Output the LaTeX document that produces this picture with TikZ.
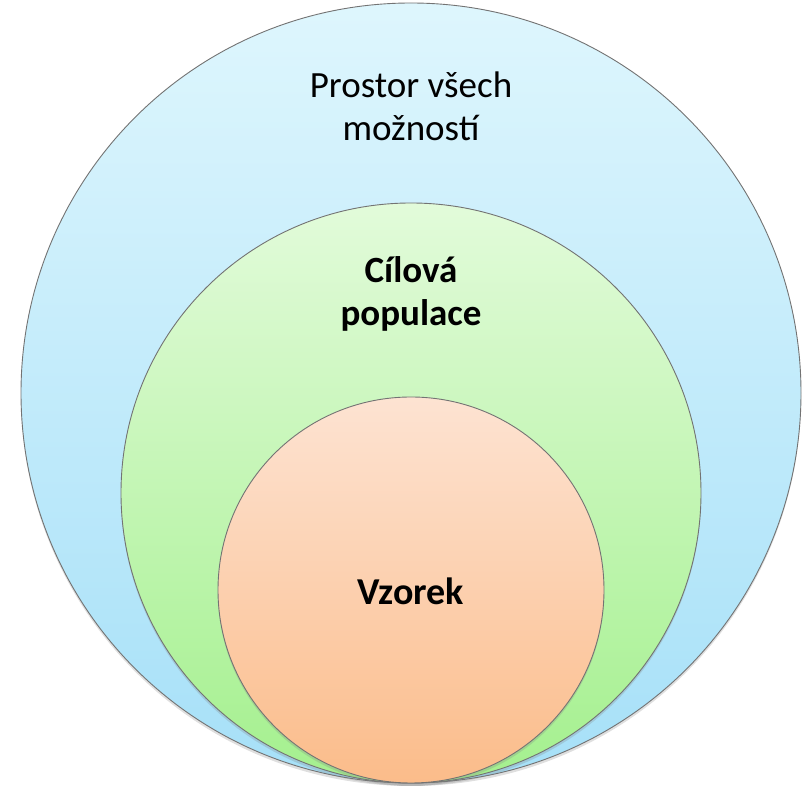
\documentclass[tikz,border=0pt]{standalone}
\usepackage{fontspec}
\setmainfont{Carlito}
\usetikzlibrary{shadows}

\tikzset{
  kruh/.style={circle, draw=black!55, line width=0.9pt, inner sep=0pt,
    drop shadow={shadow xshift=0pt, shadow yshift=-3pt, opacity=0.25}},
  popis/.style={align=center, font=\fontsize{37}{43}\selectfont}
}

\begin{document}
\begin{tikzpicture}[x=1pt,y=1pt]
\useasboundingbox (0,0) rectangle (807,790);
% three nested sets, all touching at the bottom
\node[kruh, minimum size=780pt, top color={rgb,255:red,222;green,246;blue,253}, bottom color={rgb,255:red,166;green,224;blue,248}] (prostor) at (411,397) {};
\node[kruh, minimum size=580pt, top color={rgb,255:red,226;green,251;blue,218}, bottom color={rgb,255:red,164;green,240;blue,142}] (cilova) at (411,297) {};
\node[kruh, minimum size=386pt, top color={rgb,255:red,253;green,227;blue,210}, bottom color={rgb,255:red,251;green,188;blue,138}] (vzorek) at (411,200) {};

\node[popis] (prostortext) at (411,684) {Prostor všech\\možností};
\node[popis, font=\fontsize{37}{43}\selectfont\bfseries] (cilovatext) at (411,496) {Cílová\\populace};
\node[popis, font=\fontsize{38}{43}\selectfont\bfseries] (vzorektext) at (411,199) {Vzorek};

\end{tikzpicture}
\end{document}
